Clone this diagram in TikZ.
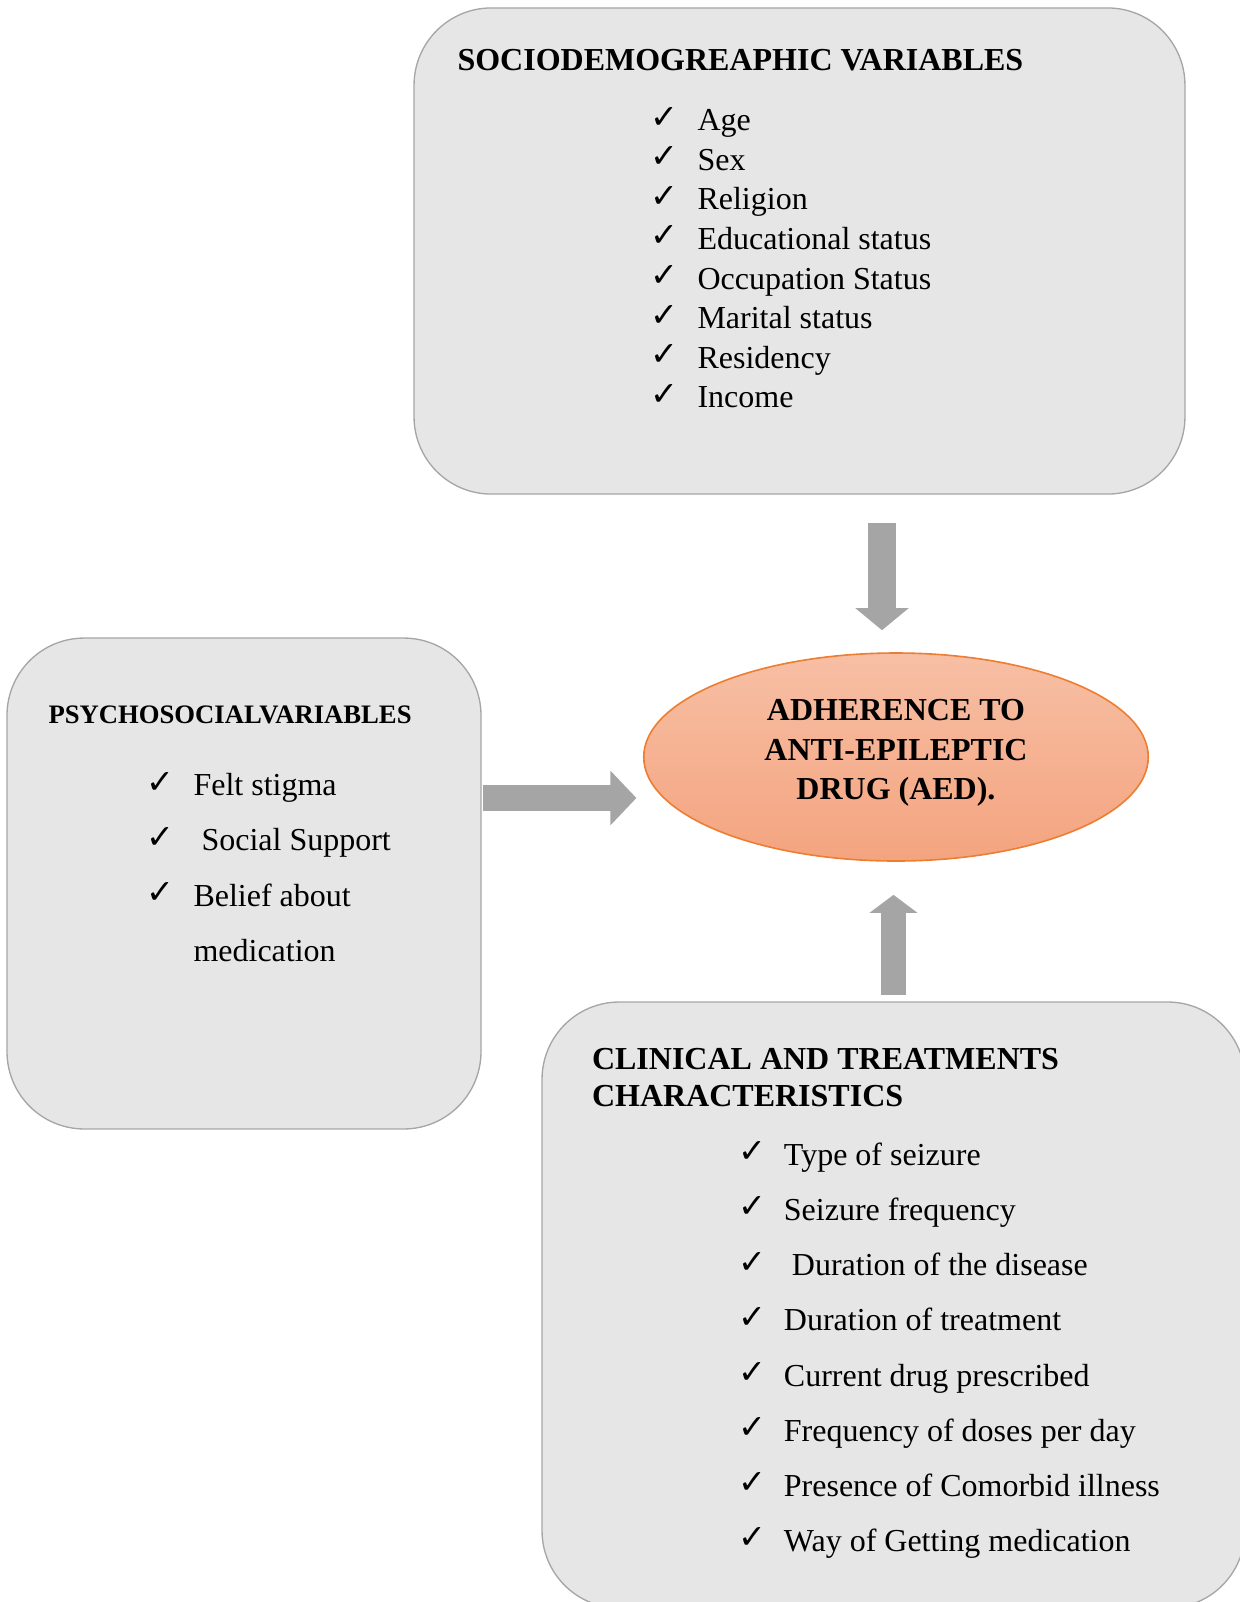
\documentclass[tikz,border=0pt]{standalone}
\usepackage{fontspec}
\setmainfont{Liberation Serif}
\newfontfamily\tickfont{DejaVu Sans}
\usetikzlibrary{shapes.geometric}
\usetikzlibrary{arrows.meta}
\usetikzlibrary{positioning}
\usetikzlibrary{calc}

\definecolor{boxfill}{HTML}{E7E6E6}
\definecolor{boxline}{HTML}{A6A6A6}
\definecolor{arrowgray}{HTML}{A5A5A5}
\definecolor{aedtop}{HTML}{F7BFA5}
\definecolor{aedbottom}{HTML}{F4A47F}
\definecolor{aedline}{HTML}{ED7D31}

\begin{document}
\begin{tikzpicture}[x=0.375pt, y=-0.375pt,
    varbox/.style={draw=boxline, line width=0.5pt, fill=boxfill, rounded corners=29pt, inner sep=0pt},
    heading/.style={font=\fontsize{12}{13.8}\selectfont\bfseries, anchor=base west, inner sep=0pt},
    tick/.style={font=\tickfont\fontsize{12.5}{14}\selectfont, anchor=base west, inner sep=0pt, yshift=1pt},
    entry/.style={font=\fontsize{12}{14}\selectfont, anchor=base west, inner sep=0pt},
    blockarrow/.style={draw=arrowgray, line cap=butt}]

        \useasboundingbox (0,0) rectangle (1240,1602);

        % the three boxes and the outcome
        \node[varbox, minimum width=289.1pt, minimum height=182.3pt] (socio) at (799.5,251) {};
        \node[varbox, minimum width=177.75pt, minimum height=184.1pt] (psycho) at (244,883.5) {};
        \node[varbox, minimum width=263.6pt, minimum height=227.25pt] (clinic) at (893.5,1305) {};
        \node[ellipse, draw=aedline, line width=0.6pt, top color=aedtop, bottom color=aedbottom,
              minimum width=189.2pt, minimum height=78pt] (aed) at (896,757) {};
        \node[font=\fontsize{12}{14.9}\selectfont\bfseries, align=center, inner sep=0pt]
              (aedlabel) at ([yshift=1.5pt]aed.center) {ADHERENCE TO\\ANTI-EPILEPTIC\\DRUG (AED).};

        \def\sdgap{39.6} % line gap in the top box
        \def\clgap{55.15} % line gap in the two other boxes

        % sociodemographic
        \node[heading] (sdhead) at (457,70) {SOCIODEMOGREAPHIC VARIABLES};
        \foreach \txt [count=\i from 0] in {Age, Sex, Religion, Educational status,
            Occupation Status, Marital status, Residency, Income} {
          \node[tick] (sdtick\i) at (650,130.7+\sdgap*\i) {✓};
          \node[entry] (sd\i) at (697,130.7+\sdgap*\i) {\txt};
        }

        % psychosocial
        \node[heading, font=\fontsize{10}{12}\selectfont\bfseries] (pshead) at (48,723.5) {PSYCHOSOCIALVARIABLES};
        \foreach \txt [count=\i from 0] in {Felt stigma, \ Social Support, Belief about} {
          \node[tick] (pstick\i) at (146,795.7+\clgap*\i) {✓};
          \node[entry] (ps\i) at (193,795.7+\clgap*\i) {\txt};
        }
        \node[entry] (ps3) at (193,795.7+\clgap*3) {medication};

        % clinical and treatment
        \node[heading] (clhead) at (591.5,1069.5) {CLINICAL AND TREATMENTS};
        \node[heading] (clhead2) at (591.5,1106.3) {CHARACTERISTICS};
        \foreach \txt [count=\i from 0] in {Type of seizure, Seizure frequency, \ Duration of the disease,
            Duration of treatment, Current drug prescribed, Frequency of doses per day,
            Presence of Comorbid illness, Way of Getting medication} {
          \node[tick] (cltick\i) at (737.5,1165.4+\clgap*\i) {✓};
          \node[entry] (cl\i) at (783.4,1165.4+\clgap*\i) {\txt};
        }

        % block arrows into the outcome
        \draw[blockarrow, line width=10.5pt, -{Triangle[width=19.5pt, length=8.25pt]}]
          ($(socio.south -| aed.north) + (-14,28)$) -- ($(aed.north) + (-14,-22)$);
        \draw[blockarrow, line width=9.6pt, -{Triangle[width=19.9pt, length=9.75pt]}]
          ($(psycho.east) + (1,-85.5)$) -- ($(aed.west) + (-6.5,41)$);
        \draw[blockarrow, line width=9.6pt, -{Triangle[width=17.6pt, length=6.75pt]}]
          ($(clinic.north) + (0,-6)$) -- ($(aed.south -| clinic.north) + (0,33)$);

      \end{tikzpicture}
\end{document}
